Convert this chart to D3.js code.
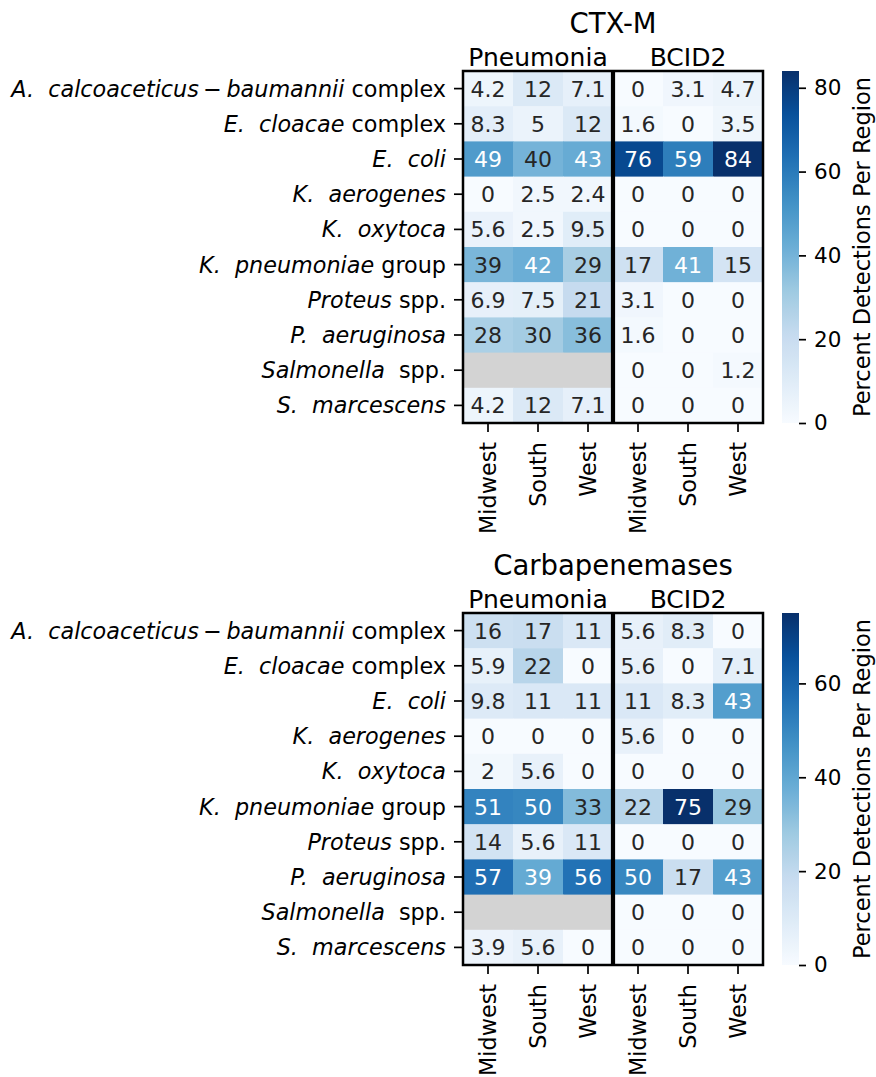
<!DOCTYPE html>
<html><head><meta charset="utf-8">
<script src="https://cdn.jsdelivr.net/npm/d3@7"></script>
<style>
body{margin:0;background:#fff}
svg{display:block}
text{font-family:"DejaVu Sans",sans-serif;white-space:pre}
</style>
</head><body><div id="chart"></div>
<script>
// ---------------- data ----------------
const rowLabels = [
  "*A.  calcoaceticus*\u2009\u2212\u2009*baumannii* complex",
  "*E.  cloacae* complex",
  "*E.  coli*",
  "*K.  aerogenes*",
  "*K.  oxytoca*",
  "*K.  pneumoniae* group",
  "*Proteus* spp.",
  "*P.  aeruginosa*",
  "*Salmonella*  spp.",
  "*S.  marcescens*"
];
const groups = ["Pneumonia", "BCID2"];
const regions = ["Midwest", "South", "West"];
const panelTitles = ["CTX-M", "Carbapenemases"];
const cbarLabel = "Percent Detections Per Region";

const ctxmPneumonia = [[4.2,12,7.1],[8.3,5,12],[49,40,43],[0,2.5,2.4],[5.6,2.5,9.5],[39,42,29],[6.9,7.5,21],[28,30,36],[null,null,null],[4.2,12,7.1]];
const ctxmBCID2     = [[0,3.1,4.7],[1.6,0,3.5],[76,59,84],[0,0,0],[0,0,0],[17,41,15],[3.1,0,0],[1.6,0,0],[0,0,1.2],[0,0,0]];
const carbPneumonia = [[16,17,11],[5.9,22,0],[9.8,11,11],[0,0,0],[2,5.6,0],[51,50,33],[14,5.6,11],[57,39,56],[null,null,null],[3.9,5.6,0]];
const carbBCID2     = [[5.6,8.3,0],[5.6,0,7.1],[11,8.3,43],[5.6,0,0],[0,0,0],[22,75,29],[0,0,0],[50,17,43],[0,0,0],[0,0,0]];

const ctxmTicks = [0,20,40,60,80];
const carbTicks = [0,20,40,60];

// ---------------- layout / style ----------------
const W = 876, H = 1077;
const X0 = 463, X1 = 763, HM_H = 352;
const panelTops = [71, 613];
const CB_X = 782, CB_W = 17;
const bluesPalette = ["#f7fbff","#deebf7","#c6dbef","#9ecae1","#6baed6","#4292c6","#2171b5","#08519c","#08306b"];
const NAN_COLOR = "#d3d3d3";
const DARK = "#262626";
const FS_TICK = 22.3, FS_ANNOT = 22, FS_GROUP = 25, FS_TITLE = 27.5, FS_CB = 21.5, FS_CBLAB = 22.5;

const panels = [
  {title: panelTitles[0], data: [ctxmPneumonia, ctxmBCID2], ticks: ctxmTicks, top: panelTops[0]},
  {title: panelTitles[1], data: [carbPneumonia, carbBCID2], ticks: carbTicks, top: panelTops[1]}
];

const svg = d3.select("#chart").append("svg").attr("width", W).attr("height", H);
const fmt = d3.format(".2~g");

const colKeys = [];
groups.forEach(g => regions.forEach(r => colKeys.push(g + "|" + r)));
const x = d3.scaleBand().domain(colKeys).range([X0, X1]);

function luminance(c) {
  const rgb = d3.rgb(c);
  const lin = v => { v /= 255; return v <= 0.03928 ? v / 12.92 : Math.pow((v + 0.055) / 1.055, 2.4); };
  return 0.2126 * lin(rgb.r) + 0.7152 * lin(rgb.g) + 0.0722 * lin(rgb.b);
}

function addLabel(sel, markup) {
  markup.split("*").forEach((part, i) => {
    if (!part) return;
    sel.append("tspan").attr("font-style", i % 2 ? "italic" : "normal").text(part);
  });
}

panels.forEach((p, pi) => {
  const top = p.top;
  const y = d3.scaleBand().domain(d3.range(rowLabels.length)).range([top, top + HM_H]);
  const all = p.data.flat(2).filter(v => v != null);
  const vmax = d3.max(all);
  const color = d3.scaleLinear()
    .domain(bluesPalette.map((_, i) => i / (bluesPalette.length - 1) * vmax))
    .range(bluesPalette).interpolate(d3.interpolateRgb).clamp(true);

  const cells = [];
  rowLabels.forEach((_, ri) => {
    groups.forEach((g, gi) => {
      regions.forEach((r, rj) => {
        cells.push({row: ri, col: g + "|" + r, v: p.data[gi][ri][rj]});
      });
    });
  });

  const g = svg.append("g");
  g.selectAll("rect.cell").data(cells).join("rect")
    .attr("class", "cell")
    .attr("x", d => x(d.col)).attr("y", d => y(d.row))
    .attr("width", x.bandwidth() + 0.5).attr("height", y.bandwidth() + 0.5)
    .attr("fill", d => d.v == null ? NAN_COLOR : color(d.v));

  g.selectAll("text.annot").data(cells.filter(d => d.v != null)).join("text")
    .attr("class", "annot")
    .attr("x", d => x(d.col) + x.bandwidth() / 2)
    .attr("y", d => y(d.row) + y.bandwidth() / 2)
    .attr("dy", "0.36em")
    .attr("text-anchor", "middle")
    .attr("font-size", FS_ANNOT)
    .attr("fill", d => luminance(color(d.v)) <= 0.408 ? "#ffffff" : DARK)
    .text(d => fmt(d.v));

  // frame and divider
  g.append("rect").attr("x", X0).attr("y", top).attr("width", X1 - X0).attr("height", HM_H)
    .attr("fill", "none").attr("stroke", "#000").attr("stroke-width", 2.5);
  const divX = x(groups[1] + "|" + regions[0]);
  g.append("line").attr("x1", divX).attr("x2", divX).attr("y1", top).attr("y2", top + HM_H)
    .attr("stroke", "#000").attr("stroke-width", 4.2);

  // y axis (row labels)
  const yAxis = g.append("g");
  rowLabels.forEach((lab, ri) => {
    const cy = y(ri) + y.bandwidth() / 2;
    yAxis.append("line").attr("x1", X0 - 9).attr("x2", X0).attr("y1", cy).attr("y2", cy)
      .attr("stroke", "#000").attr("stroke-width", 1.7);
    const t = yAxis.append("text").attr("x", X0 - 17).attr("y", cy).attr("dy", "0.36em")
      .attr("text-anchor", "end").attr("font-size", FS_TICK).attr("fill", "#000");
    addLabel(t, lab);
  });

  // x axis (regions)
  const bottom = top + HM_H;
  colKeys.forEach(k => {
    const cx = x(k) + x.bandwidth() / 2;
    g.append("line").attr("x1", cx).attr("x2", cx).attr("y1", bottom).attr("y2", bottom + 9)
      .attr("stroke", "#000").attr("stroke-width", 1.7);
    g.append("text").attr("transform", `translate(${cx},${bottom + 19}) rotate(-90)`)
      .attr("dy", "0.36em").attr("text-anchor", "end").attr("font-size", FS_TICK).attr("fill", "#000")
      .text(k.split("|")[1]);
  });

  // group labels
  groups.forEach(gr => {
    const cx = x(gr + "|" + regions[1]) + x.bandwidth() / 2;
    g.append("text").attr("x", cx).attr("y", top - 5).attr("text-anchor", "middle")
      .attr("font-size", FS_GROUP).attr("fill", "#000").text(gr);
  });

  // title
  g.append("text").attr("x", (X0 + X1) / 2).attr("y", top - 38).attr("text-anchor", "middle")
    .attr("font-size", FS_TITLE).attr("fill", "#000").text(p.title);

  // colorbar
  const cbScale = d3.scaleLinear().domain([0, vmax]).range([top + HM_H, top]);
  const gradId = "grad" + pi;
  const grad = svg.append("defs").append("linearGradient").attr("id", gradId)
    .attr("x1", 0).attr("y1", 1).attr("x2", 0).attr("y2", 0);
  d3.range(0, 1.0001, 0.02).forEach(t => {
    grad.append("stop").attr("offset", t).attr("stop-color", color(t * vmax));
  });
  g.append("rect").attr("x", CB_X).attr("y", top).attr("width", CB_W).attr("height", HM_H)
    .attr("fill", `url(#${gradId})`);
  const cbAxis = d3.axisRight(cbScale).tickValues(p.ticks).tickSize(7).tickPadding(8).tickFormat(d3.format("d"));
  const ag = g.append("g").attr("transform", `translate(${CB_X + CB_W},0)`).call(cbAxis);
  ag.select(".domain").remove();
  ag.selectAll(".tick line").attr("stroke", "#000").attr("stroke-width", 1.7);
  ag.selectAll(".tick text").attr("font-size", FS_CB).attr("fill", "#000")
    .attr("font-family", "DejaVu Sans, sans-serif");
  g.append("text").attr("transform", `translate(870,${top + HM_H / 2}) rotate(-90)`)
    .attr("text-anchor", "middle").attr("font-size", FS_CBLAB).attr("fill", "#000").text(cbarLabel);
});
</script>
</body></html>
